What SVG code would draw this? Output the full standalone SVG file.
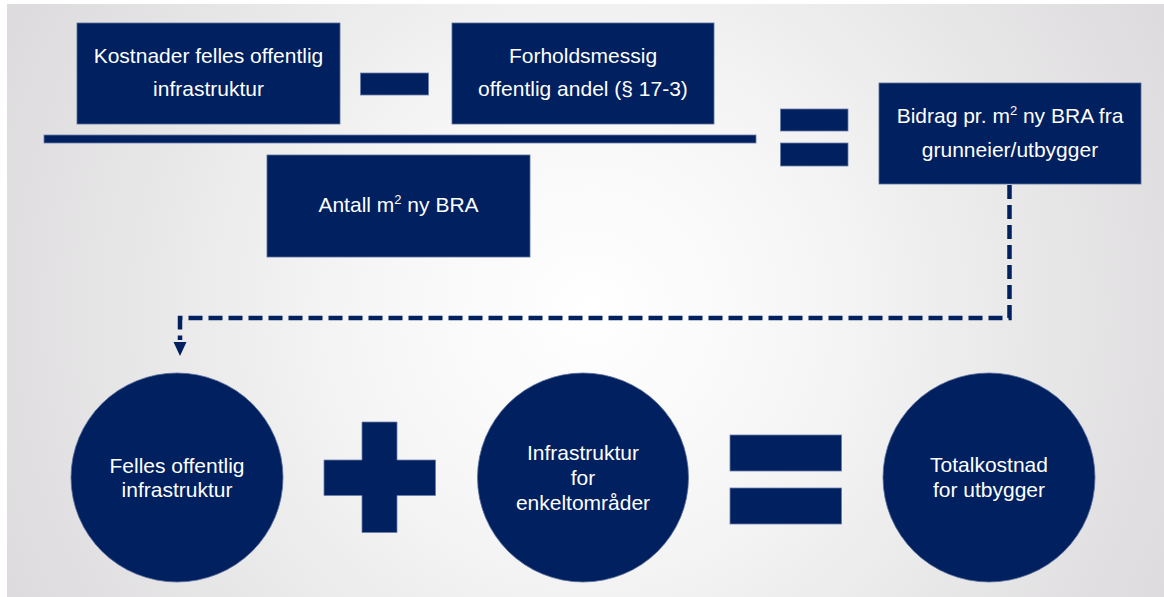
<svg xmlns="http://www.w3.org/2000/svg" width="1164" height="597" viewBox="0 0 1164 597">
  <defs>
    <radialGradient id="bg" gradientUnits="userSpaceOnUse" cx="590" cy="310" r="640">
      <stop offset="0" stop-color="#ffffff"/>
      <stop offset="0.35" stop-color="#f6f6f6"/>
      <stop offset="1" stop-color="#dddbdd"/>
    </radialGradient>
  </defs>
  <style>
    .shape { fill: #002060; stroke: #5a6e9a; stroke-width: 0.8; }
    .op { fill: #002060; stroke: #6a7ea8; stroke-width: 0.8; }
    .lbl { font-family: "Liberation Sans", Arial, sans-serif; font-size: 21px; fill: #ffffff; text-anchor: middle; }
    .sup { font-size: 13px; }
    .conn { fill: none; stroke: #002060; stroke-width: 4.5; stroke-dasharray: 14 6; }
  </style>
  <rect x="7" y="4" width="1157" height="593" fill="url(#bg)"/>

  <g id="connectors">
    <path class="conn" d="M1009.5,185 V318 H180 V340"/>
    <path d="M173.5,342 L186.5,342 L180,356 Z" fill="#002060"/>
  </g>

  <g id="node-kostnader">
    <rect class="shape" x="77" y="23" width="263" height="101"/>
    <text class="lbl" x="208.5" y="63">Kostnader felles offentlig</text>
    <text class="lbl" x="208.5" y="96">infrastruktur</text>
  </g>

  <g id="op-minus">
    <rect class="op" x="360.5" y="73" width="68" height="22"/>
  </g>

  <g id="node-forholdsmessig">
    <rect class="shape" x="452" y="23" width="262" height="101"/>
    <text class="lbl" x="583" y="63">Forholdsmessig</text>
    <text class="lbl" x="583" y="96">offentlig andel (§ 17-3)</text>
  </g>

  <g id="fraction-line">
    <rect class="op" x="44" y="135" width="712" height="8"/>
  </g>

  <g id="node-antall">
    <rect class="shape" x="267" y="155" width="263" height="102"/>
    <text class="lbl" x="398.5" y="212">Antall m<tspan class="sup" dy="-8">2</tspan><tspan dy="8"> ny BRA</tspan></text>
  </g>

  <g id="op-equals-top">
    <rect class="op" x="780.5" y="109" width="67.5" height="22"/>
    <rect class="op" x="780.5" y="143" width="67.5" height="23"/>
  </g>

  <g id="node-bidrag">
    <rect class="shape" x="879" y="83" width="262" height="101"/>
    <text class="lbl" x="1010" y="123">Bidrag pr. m<tspan class="sup" dy="-8">2</tspan><tspan dy="8"> ny BRA fra</tspan></text>
    <text class="lbl" x="1010" y="157">grunneier/utbygger</text>
  </g>

  <g id="node-felles">
    <ellipse class="shape" cx="177" cy="477.5" rx="106" ry="104.5"/>
    <text class="lbl" x="177" y="472.5">Felles offentlig</text>
    <text class="lbl" x="177" y="497">infrastruktur</text>
  </g>

  <g id="op-plus">
    <path class="op" d="M362,422 H397 V460 H435.5 V495.5 H397 V532.5 H362 V495.5 H324 V460 H362 Z"/>
  </g>

  <g id="node-enkelt">
    <ellipse class="shape" cx="583" cy="477.5" rx="105.5" ry="104.5"/>
    <text class="lbl" x="583" y="460">Infrastruktur</text>
    <text class="lbl" x="583" y="485">for</text>
    <text class="lbl" x="583" y="510">enkeltområder</text>
  </g>

  <g id="op-equals-bottom">
    <rect class="op" x="730" y="435" width="111.5" height="36"/>
    <rect class="op" x="730" y="488" width="111.5" height="36"/>
  </g>

  <g id="node-total">
    <ellipse class="shape" cx="989" cy="477.5" rx="106" ry="104.5"/>
    <text class="lbl" x="989" y="472">Totalkostnad</text>
    <text class="lbl" x="989" y="497">for utbygger</text>
  </g>
</svg>
